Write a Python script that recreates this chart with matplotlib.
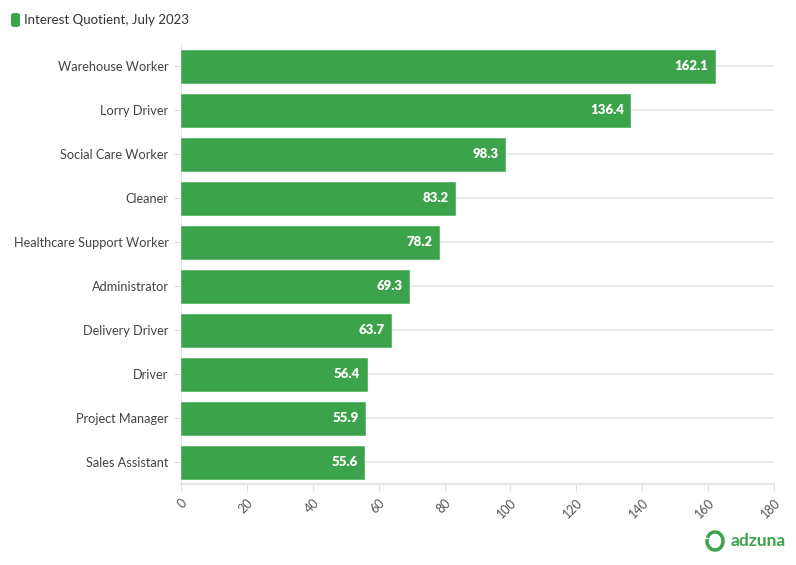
import matplotlib.pyplot as plt
from matplotlib.patches import FancyBboxPatch, Arc

jobs = ["Warehouse Worker", "Lorry Driver", "Social Care Worker", "Cleaner",
        "Healthcare Support Worker", "Administrator", "Delivery Driver",
        "Driver", "Project Manager", "Sales Assistant"]
scores = [162.1, 136.4, 98.3, 83.2, 78.2, 69.3, 63.7, 56.4, 55.9, 55.6]
xticks = [0, 20, 40, 60, 80, 100, 120, 140, 160, 180]

green = "#3ca34c"
plt.rcParams["font.family"] = ["Lato", "DejaVu Sans"]

fig = plt.figure(figsize=(7.96, 5.65), dpi=100)
ax = fig.add_axes([181 / 796, 1 - 484 / 565, 593 / 796, 440 / 565])

ypos = list(range(len(jobs)))
bars = ax.barh(ypos, scores, height=0.75, color=green, edgecolor="#5cb86a",
               linewidth=0.6, zorder=3)
for y, v in zip(ypos, scores):
    ax.text(v - 2, y, f"{v:.1f}", ha="right", va="center", color="white",
            fontsize=9.5, fontweight="heavy", zorder=4)

ax.set_ylim(len(jobs) - 0.5, -0.5)
ax.set_xlim(0, 180)
ax.set_yticks(ypos)
ax.set_yticklabels(jobs, fontsize=9.2, color="#444444")
ax.set_xticks(xticks)
ax.set_xticklabels([str(t) for t in xticks], fontsize=9, color="#555555",
                   rotation=45, ha="right", va="top", rotation_mode="anchor")
ax.tick_params(axis="y", length=5, color="#dddddd", pad=4)
ax.tick_params(axis="x", length=5, color="#dddddd", pad=4)
ax.grid(axis="y", color="#e6e6e6", linewidth=1.2, zorder=0)
for side in ["top", "right"]:
    ax.spines[side].set_visible(False)
ax.spines["left"].set_color("#e6e6e6")
ax.spines["bottom"].set_color("#e6e6e6")
ax.spines["bottom"].set_linewidth(1.5)

# legend swatch and title
sw = FancyBboxPatch((11 / 796, 1 - 27 / 565), 9 / 796, 14 / 565,
                    boxstyle="round,pad=0,rounding_size=0.004",
                    transform=fig.transFigure, color=green, ec="none")
fig.patches.append(sw)
fig.text(24 / 796, 1 - 20 / 565, "Interest Quotient, July 2023", fontsize=9.5,
         color="#333333", va="center", ha="left")

# logo
fig.text(786 / 796, 1 - 541 / 565, "adzuna", fontsize=12.5, fontweight="bold",
         color=green, ha="right", va="center")
logo = Arc((715 / 796, 1 - 541 / 565), 16 / 796, 18 / 565, theta1=-200,
           theta2=150, transform=fig.transFigure, color=green, linewidth=2.5)
fig.patches.append(logo)

fig.savefig("out.png", dpi=100)
